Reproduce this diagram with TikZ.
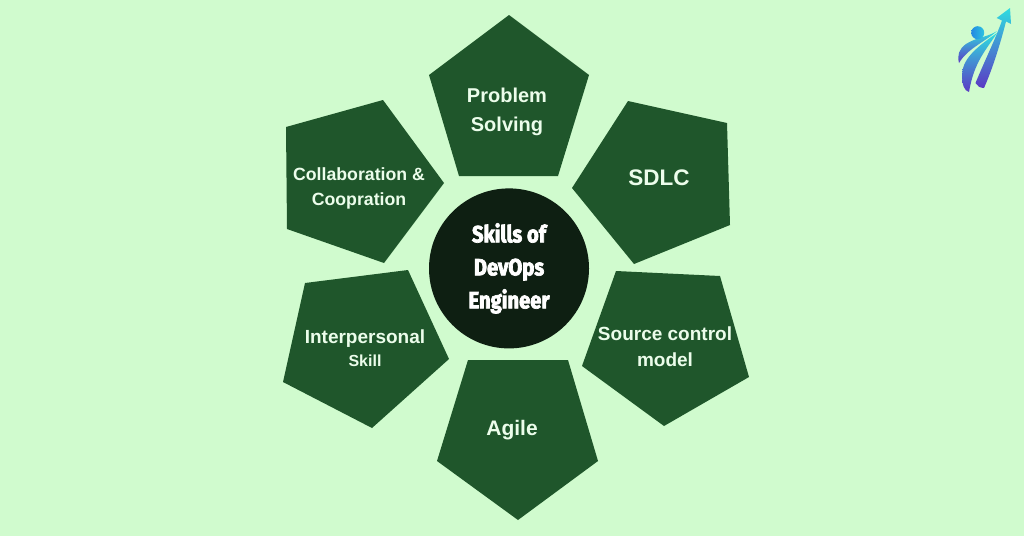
\documentclass[tikz,border=0pt]{standalone}
\usepackage{fontspec}
\setmainfont{Liberation Sans}
\newfontfamily\hubfont[FakeStretch=0.86,FakeBold=3]{Fira Sans Bold}
\definecolor{paleback}{HTML}{D0FBCE}
\definecolor{petalgreen}{HTML}{1F562B}
\definecolor{hubblack}{HTML}{0E1F12}
\definecolor{logocyan}{HTML}{2FDCE0}
\definecolor{logoblue}{HTML}{2389E2}
\definecolor{logoviolet}{HTML}{5B3AC4}
\tikzset{
	petal/.style={fill=petalgreen},
	petaltext/.style={text=paleback!40!white, align=center, inner sep=0pt},
	logopart/.style={top color=logocyan, middle color=logoblue, bottom color=logoviolet}
}
\newcommand{\lbl}[2]{\fontsize{#1}{#2}\selectfont\bfseries}
\begin{document}
\begin{tikzpicture}[x=1pt, y=-1pt]
		\fill[paleback] (0,0) rectangle (1024,536);
		\useasboundingbox (0,0) rectangle (1024,536);
		% the six pentagons
		\fill[petal] (509,15) -- (589,75) -- (558,176) -- (459,176) -- (429,75) -- cycle;
		\fill[petal] (628,101) -- (727,123) -- (730,225) -- (634,264) -- (572,188) -- cycle;
		\fill[petal] (616,271) -- (720,276) -- (749,377) -- (664,426) -- (582,366) -- cycle;
		\fill[petal] (468,360) -- (568,360) -- (598,461) -- (518,520) -- (437,461) -- cycle;
		\fill[petal] (408,270) -- (449,359) -- (372,428) -- (283,382) -- (305,283) -- cycle;
		\fill[petal] (383,100) -- (444,183) -- (384,263) -- (287,229) -- (286,127) -- cycle;
		% labels
		\node[petaltext, font=\lbl{20}{28.5}] (problem) at (507,112) {Problem\\Solving};
		\node[petaltext, font=\lbl{22.5}{26}] (sdlc) at (659,178) {SDLC};
		\node[petaltext, font=\lbl{19}{26}] (source) at (665,347) {Source control\\model};
		\node[petaltext, font=\lbl{21}{25}] (agile) at (512,430) {Agile};
		\node[petaltext, font=\lbl{19}{23}] (inter) at (365,348.5) {Interpersonal\\\fontsize{16}{23}\selectfont Skill};
		\node[petaltext, font=\lbl{17.7}{25}] (collab) at (359,188) {Collaboration \&\\Coopration};
		% centre
		\node[circle, fill=hubblack, minimum size=160pt, inner sep=0pt, text=white, align=center, font=\fontsize{23.5}{33}\selectfont\hubfont] (hub) at (509,268.4)
			{Skills of\\DevOps\\Engineer};
		% logo
		\shade[logopart] (1010,8) -- (1011,24) -- (1006,21.5) .. controls (1000,45) and (992,70) .. (984,88) .. controls (980,88) and (977,86) .. (975.5,83) .. controls (985,60) and (995,40) .. (1002,20.5) -- (996.7,18) -- cycle;
		\shade[logopart] (997,31) .. controls (985,42) and (968,48) .. (959,63) .. controls (957,55) and (959,49) .. (966,44) .. controls (977,37) and (988,37) .. (997,31) -- cycle;
		\shade[logopart] (997,33) .. controls (986,50) and (974,62) .. (969,92) .. controls (964,91) and (962,84) .. (962,75) .. controls (962,60) and (975,48) .. (997,33) -- cycle;
		\shade[left color=logoblue, right color=logocyan!70!logoblue] (977.7,32.7) circle (6.5);
	\end{tikzpicture}
\end{document}
